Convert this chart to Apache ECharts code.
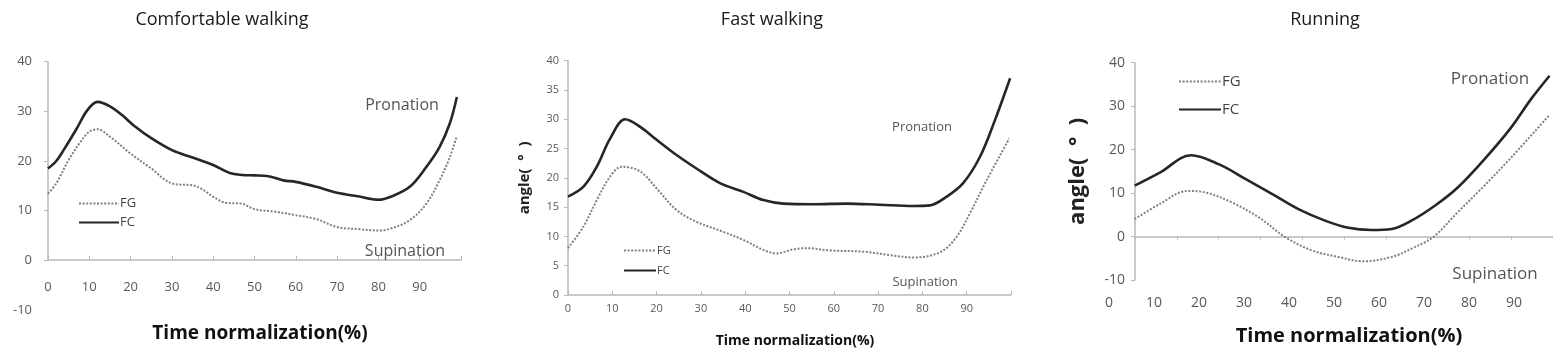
<!DOCTYPE html>
<html>
<head>
<meta charset="utf-8">
<script src="https://cdn.jsdelivr.net/npm/echarts@6/dist/echarts.min.js"></script>
<style>
html,body{margin:0;padding:0;background:#fff;}
#c{width:1553px;height:348px;}
</style>
</head>
<body>
<div id="c"></div>
<script>
// ---- Data (x = time normalization %, y = angle in degrees) ----
const panelTitles = ['Comfortable walking', 'Fast walking', 'Running'];
const xAxisName = 'Time normalization(%)';
const yAxisName = 'angle(  °  )';

// Comfortable walking
const cwFG = [[0,13.4],[2,15.5],[5,20.2],[8,24],[10,25.9],[12,26.4],[15,24.9],[20,21.5],[25,18.5],[30,15.5],[35,15.1],[37,14.5],[40,12.8],[43,11.6],[47,11.4],[50,10.3],[55,9.8],[60,9.1],[65,8.3],[70,6.7],[75,6.3],[80,6.0],[83,6.4],[87.6,8.1],[91.6,11.4],[94.8,16.1],[97.3,20.8],[99,25]];
const cwFC = [[0,18.5],[2,20],[4,22.5],[7,26.6],[9.5,30.2],[12,31.9],[15,31],[18,29.2],[21,27],[25,24.6],[30,22.2],[35,20.7],[40,19.2],[44,17.6],[47,17.2],[50,17.1],[53,17.0],[57,16.1],[60,15.8],[65,14.8],[70,13.6],[75,12.9],[80,12.2],[83,12.8],[87.6,14.8],[91.6,18.8],[94.8,22.8],[97.3,27.6],[99,32.9]];

// Fast walking
const fwFG = [[0,8.0],[3.5,11.7],[6.5,16.2],[9.5,20.2],[12.1,21.9],[16.3,21.1],[20,18.2],[24.5,14.5],[29,12.5],[35,10.8],[39.6,9.4],[44.1,7.7],[47.1,7.1],[50.9,7.8],[53.9,8.0],[59.2,7.6],[66.7,7.4],[72.8,6.8],[78,6.4],[84,7.3],[87.7,9.9],[90.7,13.9],[94.5,19.6],[99.6,26.7]];
const fwFC = [[0,16.8],[3.5,18.5],[6.5,21.9],[9.5,26.7],[12.9,30.0],[16.3,28.7],[20,26.5],[24.5,23.9],[29,21.6],[34.3,19.1],[39.6,17.6],[44.1,16.2],[48.6,15.6],[55.4,15.5],[62.9,15.6],[70.4,15.4],[78,15.2],[81.7,15.3],[85.5,16.8],[89.2,19.1],[93,23.6],[96.4,29.9],[99.8,37]];

// Running
const rnFG = [[5.7,4.0],[11.3,7.5],[17.5,10.5],[21.6,10.1],[27.4,7.8],[33.3,4.4],[39.2,-0.15],[45.1,-3.2],[51,-4.7],[56.5,-5.7],[62.8,-4.7],[67.2,-2.8],[72,-0.15],[77.5,5.6],[83.4,11.7],[89.3,18.1],[97.9,28]];
const rnFC = [[5.7,11.7],[11.3,14.7],[18.2,18.7],[24.5,16.6],[30.4,13.2],[36.3,9.75],[42.1,6.3],[48,3.66],[53.2,2.0],[58.3,1.5],[62.8,1.75],[67.2,3.66],[72.4,7.1],[77.5,11.3],[83.4,17.75],[89.3,25],[93.7,31.5],[97.9,37]];

// ---- Styling ----
const FONT = 'Open Sans';
const AX = '#b8b8b8';
const LBL = '#595959';
const fgStyle = {color:'#808080', width:2, type:[2,1.6]};
const fcStyle = {color:'#262626', width:2.6, type:'solid'};
const xFmt = v => (v % 10 === 0 && v < 100) ? String(v) : '';

function txt(text, cx, cy, size, opts) {
  opts = opts || {};
  return {
    text: text, left: cx, top: cy - size*0.68, textAlign: 'center',
    textStyle: {fontFamily: FONT, fontSize: size, fontWeight: opts.bold ? 'bold' : 'normal', color: opts.color || '#1a1a1a'}
  };
}

const grids = [
  {left:48, top:61.7, width:413, height:248.3},   // 0 panel1 data (-10..40)
  {left:48, top:61.7, width:413, height:198.3},   // 1 panel1 axes (0..40)
  {left:568, top:60.7, width:443, height:234.3},  // 2 panel2
  {left:1109, top:62.7, width:444, height:217.3}, // 3 panel3 main
  {left:1135, top:62.7, width:418, height:217.3}  // 4 panel3 axis overlay
];

const xAxes = [
  {gridIndex:0, type:'value', min:0, max:100, show:false},
  {gridIndex:1, type:'value', min:0, max:100, interval:10,
   axisLine:{onZero:false, lineStyle:{color:AX, width:1.5}},
   axisTick:{inside:true, length:4, lineStyle:{color:AX}},
   axisLabel:{margin:21, color:LBL, fontSize:13, fontFamily:FONT, formatter:xFmt},
   splitLine:{show:false}},
  {gridIndex:2, type:'value', min:0, max:100, interval:10,
   axisLine:{onZero:false, lineStyle:{color:AX, width:1.5}},
   axisTick:{inside:true, length:4, lineStyle:{color:AX}},
   axisLabel:{margin:8, color:LBL, fontSize:11, fontFamily:FONT, formatter:xFmt},
   splitLine:{show:false}},
  {gridIndex:3, type:'value', min:0, max:98, interval:10,
   axisLine:{show:false, onZero:false},
   axisTick:{show:false},
   axisLabel:{margin:16, color:LBL, fontSize:14, fontFamily:FONT, formatter:xFmt},
   splitLine:{show:false}},
  {gridIndex:4, type:'value', min:0, max:10, interval:1,
   axisLine:{onZero:true, lineStyle:{color:AX, width:1.5}},
   axisTick:{length:3, lineStyle:{color:AX}},
   axisLabel:{show:false},
   splitLine:{show:false}}
];

const yAxes = [
  {gridIndex:0, type:'value', min:-10, max:40, interval:10,
   axisLine:{show:false}, axisTick:{show:false},
   axisLabel:{margin:16, color:LBL, fontSize:13, fontFamily:FONT},
   splitLine:{show:false}},
  {gridIndex:1, type:'value', min:0, max:40, interval:10,
   axisLine:{show:true, lineStyle:{color:AX, width:1.5}},
   axisTick:{show:true, length:4, lineStyle:{color:AX}},
   axisLabel:{show:false}, splitLine:{show:false}},
  {gridIndex:2, type:'value', min:0, max:40, interval:5,
   name:yAxisName, nameLocation:'middle', nameGap:36,
   nameTextStyle:{fontFamily:FONT, fontSize:15, fontWeight:'bold', color:'#222'},
   axisLine:{show:true, lineStyle:{color:AX, width:1.5}},
   axisTick:{show:true, length:4, lineStyle:{color:AX}},
   axisLabel:{margin:9, color:LBL, fontSize:11, fontFamily:FONT},
   splitLine:{show:false}},
  {gridIndex:3, type:'value', min:-10, max:40, interval:10, offset:-26,
   name:yAxisName, nameLocation:'middle', nameGap:46,
   nameTextStyle:{fontFamily:FONT, fontSize:22, fontWeight:'bold', color:'#222'},
   axisLine:{show:true, lineStyle:{color:AX, width:1.5}},
   axisTick:{show:true, length:4, lineStyle:{color:AX}},
   axisLabel:{margin:10, color:LBL, fontSize:14, fontFamily:FONT},
   splitLine:{show:false}},
  {gridIndex:4, type:'value', min:-10, max:40, show:false}
];

function line(name, data, xi, style) {
  return {name:name, type:'line', xAxisIndex:xi, yAxisIndex:xi, data:data,
          smooth:0.35, symbol:'none', lineStyle:style, itemStyle:{color:style.color},
          animation:false, z:3};
}

function legend(left, top, size, w, gap) {
  return {left:left, top:top, orient:'vertical', itemWidth:w, itemHeight:10, itemGap:gap,
          data:['FG','FC'], itemStyle:{opacity:0},
          textStyle:{fontFamily:FONT, fontSize:size, color:'#444', padding:[0,0,0,-4]},
          selectedMode:false};
}

const option = {
  animation:false,
  title:[
    txt(panelTitles[0], 217, 18, 18),
    txt(panelTitles[1], 767, 18, 18),
    txt(panelTitles[2], 1320, 18, 18),
    txt(xAxisName, 255, 332, 19, {bold:true, color:'#111'}),
    txt(xAxisName, 790, 339, 14, {bold:true, color:'#111'}),
    txt(xAxisName, 1344, 335, 20, {bold:true, color:'#111'}),
    txt('Pronation', 397, 103, 16, {color:'#555'}),
    txt('Supination', 400, 249, 16, {color:'#555'}),
    txt('Pronation', 917, 125, 13, {color:'#555'}),
    txt('Supination', 920, 280, 13, {color:'#555'}),
    txt('Pronation', 1485, 77, 17, {color:'#555'}),
    txt('Supination', 1490, 272, 17, {color:'#555'})
  ],
  legend:[
    legend(73, 192, 13, 40, 6),
    legend(618, 240, 11, 32, 9),
    legend(1173, 69, 15, 42, 13)
  ],
  grid:grids,
  xAxis:xAxes,
  yAxis:yAxes,
  series:[
    line('FG', cwFG, 0, fgStyle),
    line('FC', cwFC, 0, fcStyle),
    line('FG', fwFG, 2, fgStyle),
    line('FC', fwFC, 2, fcStyle),
    line('FG', rnFG, 3, fgStyle),
    line('FC', rnFC, 3, fcStyle)
  ]
};

const chart = echarts.init(document.getElementById('c'), null, {renderer:'canvas'});
chart.setOption(option);
</script>
</body>
</html>
